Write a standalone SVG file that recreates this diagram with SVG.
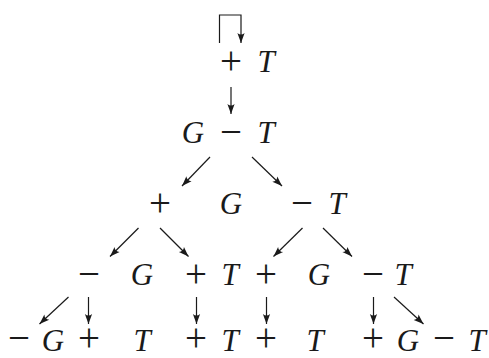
<svg xmlns="http://www.w3.org/2000/svg" width="489" height="358" viewBox="0 0 489 358">
<style>
.v{font-family:"Liberation Serif",serif;font-style:italic;font-size:31px;fill:#1a1a1a;text-anchor:middle}
.o{font-family:"Liberation Serif",serif;font-size:39px;fill:#1a1a1a;text-anchor:middle}
.c line,.c path{stroke:#1a1a1a;stroke-width:1.2;fill:none}
</style>
<defs>
<marker id="ah" viewBox="-11 -5 12 10" refX="0" refY="0" markerWidth="12" markerHeight="10" markerUnits="userSpaceOnUse" orient="auto">
<path d="M0,0 L-10,-3.6 Q-7,0 -10,3.6 Z" fill="#1a1a1a" stroke="none"/>
</marker>
</defs>
<rect width="489" height="358" fill="#fff"/>
<g class="c" id="connectors">
<path d="M219.5,43 V15 H241 V43" marker-end="url(#ah)"/>
<line x1="231" y1="87" x2="231" y2="114" marker-end="url(#ah)"/>
<line x1="210" y1="157" x2="182" y2="186" marker-end="url(#ah)"/>
<line x1="252" y1="157" x2="282" y2="186" marker-end="url(#ah)"/>
<line x1="138.5" y1="228" x2="110" y2="256.5" marker-end="url(#ah)"/>
<line x1="160" y1="228" x2="188.5" y2="256.5" marker-end="url(#ah)"/>
<line x1="302.5" y1="228" x2="273.5" y2="256.5" marker-end="url(#ah)"/>
<line x1="323" y1="228" x2="352" y2="256.5" marker-end="url(#ah)"/>
<line x1="68.5" y1="297" x2="39.5" y2="324" marker-end="url(#ah)"/>
<line x1="88.5" y1="297" x2="88.5" y2="324" marker-end="url(#ah)"/>
<line x1="196.5" y1="297" x2="196.5" y2="324" marker-end="url(#ah)"/>
<line x1="266.5" y1="297" x2="266.5" y2="324" marker-end="url(#ah)"/>
<line x1="373.5" y1="297" x2="373.5" y2="324" marker-end="url(#ah)"/>
<line x1="394" y1="297" x2="423.5" y2="324" marker-end="url(#ah)"/>
</g>
<g id="n1"><text class="o" x="231" y="74">+</text><text class="v" x="266" y="72">T</text></g>
<g id="n2"><text class="v" x="193" y="143">G</text><text class="o" x="231" y="145">−</text><text class="v" x="266" y="143">T</text></g>
<g id="n3"><text class="o" x="160" y="216">+</text><text class="v" x="231" y="214">G</text><text class="o" x="302" y="216">−</text><text class="v" x="337" y="214">T</text></g>
<g id="n4"><text class="o" x="89" y="287">−</text><text class="v" x="142" y="285">G</text><text class="o" x="196" y="287">+</text><text class="v" x="230" y="285">T</text><text class="o" x="266" y="287">+</text><text class="v" x="319" y="285">G</text><text class="o" x="373" y="287">−</text><text class="v" x="403" y="285">T</text></g>
<g id="n5"><text class="o" x="19" y="351">−</text><text class="v" x="53" y="351">G</text><text class="o" x="89" y="351">+</text><text class="v" x="142" y="351">T</text><text class="o" x="196" y="351">+</text><text class="v" x="230" y="351">T</text><text class="o" x="266" y="351">+</text><text class="v" x="315" y="351">T</text><text class="o" x="373" y="351">+</text><text class="v" x="408" y="351">G</text><text class="o" x="444" y="351">−</text><text class="v" x="477" y="351">T</text></g>
</svg>
